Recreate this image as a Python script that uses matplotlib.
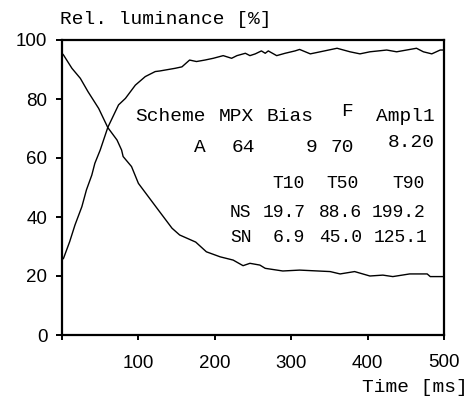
import matplotlib
matplotlib.use("Agg")
import matplotlib.pyplot as plt

# ---- data ----
t_rise = [0, 2, 10, 17, 26, 32, 39, 43, 50, 60, 74, 83, 96, 109, 122, 128, 148, 157,
          167, 176, 187, 198, 211, 222, 229, 240, 246, 253, 261, 266, 270, 281, 292,
          305, 311, 325, 338, 360, 377, 390, 403, 425, 438, 464, 473, 484, 495, 500]
y_rise = [25.5, 26.0, 31.6, 37.3, 43.5, 49.2, 54.2, 58.2, 62.7, 70.4, 78.0, 80.2, 84.7,
          87.6, 89.3, 89.5, 90.4, 90.9, 93.2, 92.7, 93.2, 93.8, 94.7, 93.8, 94.7, 95.5,
          94.7, 95.3, 96.3, 95.5, 96.3, 94.7, 95.5, 96.3, 96.8, 95.3, 96.0, 97.2, 96.0,
          95.3, 96.0, 96.6, 96.0, 97.2, 96.0, 95.3, 96.6, 96.6]

t_fall = [0, 2, 13, 24, 34, 48, 60, 72, 78, 80, 91, 100, 113, 126, 144, 154, 175, 189,
          207, 224, 237, 246, 259, 266, 289, 311, 351, 364, 383, 403, 420, 433, 455,
          478, 482, 500]
y_fall = [95.5, 94.9, 90.4, 87.0, 82.5, 76.8, 70.3, 66.1, 62.7, 60.5, 57.1, 51.4, 46.9,
          42.4, 36.2, 33.9, 31.5, 28.2, 26.5, 25.4, 23.5, 24.3, 23.7, 22.6, 21.7, 22.0,
          21.5, 20.7, 21.5, 20.0, 20.3, 19.8, 20.7, 20.7, 19.8, 19.8]

x_ticks = [0, 100, 200, 300, 400, 500]
x_tick_labels = ["", "100", "200", "300", "400", ""]
y_ticks = [0, 20, 40, 60, 80, 100]

header = ["Scheme", "MPX", "Bias", "F", "Ampl1"]
header_x = [142, 228, 298, 373, 450]
params = ["A", "64", "9", "70", "8.20"]
params_x = [181, 237, 327, 366.5, 457]
t_heads = ["T10", "T50", "T90"]
t_heads_x = [297, 366.5, 453]
rows = ["NS", "SN"]
row_vals = [["19.7", "88.6", "199.2"], ["6.9", "45.0", "125.1"]]
vals_x = [[291, 364.5, 440.5], [297, 365, 443.7]]

mono = "Liberation Mono"
sans = "Liberation Sans"

fig = plt.figure(figsize=(4.75, 3.98), dpi=100)
ax = fig.add_axes([62/475, 1-335/398, (444-62)/475, (335-40)/398])

ax.plot(t_rise, y_rise, color="black", lw=1.0)
ax.plot(t_fall, y_fall, color="black", lw=1.0)

ax.set_xlim(0, 500)
ax.set_ylim(0, 100)
for s in ax.spines.values():
    s.set_linewidth(1.6)

ax.set_xticks(x_ticks)
ax.set_xticklabels(x_tick_labels, fontfamily=sans, fontsize=13.5)
ax.set_yticks(y_ticks)
ax.set_yticklabels([str(v) for v in y_ticks], fontfamily=sans, fontsize=13.5)
ax.tick_params(axis="x", direction="out", length=3.5, width=1.4, pad=11)
ax.tick_params(axis="y", direction="out", length=4.5, width=1.4, pad=6)
ax.annotate("500", xy=(500, 0), xycoords=("data", "axes fraction"),
            xytext=(0, -20), textcoords="offset points", ha="center", va="center",
            fontfamily=sans, fontsize=13.5)

fig.text(60/475, 1-20/398, "Rel. luminance [%]", fontfamily=mono, fontsize=14,
         ha="left", va="center")
fig.text(415/475, 1-388/398, "Time [ms]", fontfamily=mono, fontsize=14,
         ha="center", va="center")

for s, x in zip(header, header_x):
    y = 75.6 if s == "F" else 73.9
    ax.text(x, y, s, fontfamily=mono, fontsize=14, ha="center", va="center")
for s, x in zip(params, params_x):
    y = 65.1 if s == "8.20" else 63.7
    ax.text(x, y, s, fontfamily=mono, fontsize=14, ha="center", va="center")
for s, x in zip(t_heads, t_heads_x):
    ax.text(x, 51.5, s, fontfamily=mono, fontsize=13, ha="center", va="center")
for r, (name, vals, xs) in enumerate(zip(rows, row_vals, vals_x)):
    y = 41.4 if r == 0 else 33.2
    ax.text(234, y, name, fontfamily=mono, fontsize=13, ha="center", va="center")
    for v, x in zip(vals, xs):
        ax.text(x, y, v, fontfamily=mono, fontsize=13, ha="center", va="center")

fig.savefig("out.png", dpi=100)
